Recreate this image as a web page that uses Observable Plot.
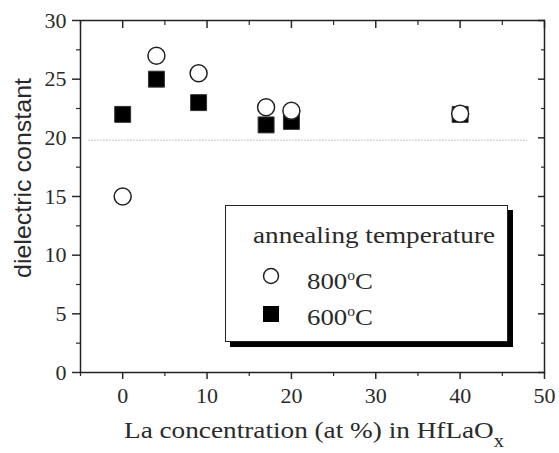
<!DOCTYPE html>
<html><head><meta charset="utf-8">
<script src="https://cdn.jsdelivr.net/npm/d3@7"></script>
<script src="https://cdn.jsdelivr.net/npm/@observablehq/plot@0.6"></script>
<style>
body{margin:0;background:#fff;font-family:"Liberation Serif","Times New Roman",serif;}
#wrap{position:relative;width:559px;height:453px;}
#wrap svg text{font-family:"Liberation Serif","Times New Roman",serif !important;}
#legend{position:absolute;left:225px;top:205px;width:283px;height:137px;border:1.2px solid #222;background:#fff;box-shadow:5px 5px 0 #000;font-size:24px;color:#2a2a2a;box-sizing:border-box;}
.fit{position:absolute;white-space:nowrap;transform-origin:0 50%;line-height:28px;}
#xt{position:absolute;left:124px;top:416px;font-size:24px;line-height:28px;color:#2a2a2a;white-space:nowrap;transform-origin:0 50%;}
#yt{position:absolute;font-family:"Liberation Sans",Arial,sans-serif;font-size:24px;line-height:28px;color:#2a2a2a;white-space:nowrap;}
</style></head>
<body><div id="wrap"></div>
<script>
const conc = [0, 4, 9, 17, 20, 40];
const k800 = [15, 27, 25.5, 22.6, 22.3, 22.05];
const k600 = [22, 25, 23, 21.1, 21.4, 22];
const xTicks = [0, 10, 20, 30, 40, 50];
const xMinor = [-5, 5, 15, 25, 35, 45];
const yTicks = [0, 5, 10, 15, 20, 25, 30];
const yMinor = [2.5, 7.5, 12.5, 17.5, 22.5, 27.5];
const refLevel = [19.8];
const refSpan = [-4, 48];
const seriesLabels = ["800°C", "600°C"];

const d800 = conc.map((x, i) => ({x, y: k800[i]}));
const d600 = conc.map((x, i) => ({x, y: k600[i]}));

const plot = Plot.plot({
  width: 559, height: 453,
  marginLeft: 80, marginTop: 20, marginRight: 15, marginBottom: 81,
  style: {fontSize: "22px", color: "#2a2a2a", background: "white"},
  x: {domain: [-5, 50]},
  y: {domain: [0, 30]},
  marks: [
    Plot.ruleY(refLevel, {x1: refSpan[0], x2: refSpan[1], stroke: "#888", strokeDasharray: "1,2", strokeWidth: 1}),
    Plot.axisX({ticks: xTicks, tickSize: 7, tickPadding: 8, label: null, strokeWidth: 1.5, fontSize: 22}),
    Plot.axisX({ticks: xMinor, tickSize: 4, text: null, label: null, strokeWidth: 1.2}),
    Plot.axisX({anchor: "top", ticks: xTicks, tickSize: -7, text: null, label: null, strokeWidth: 1.5}),
    Plot.axisX({anchor: "top", ticks: xMinor, tickSize: -4, text: null, label: null, strokeWidth: 1.2}),
    Plot.axisY({ticks: yTicks, tickSize: 8, tickPadding: 6, label: null, strokeWidth: 1.5, fontSize: 22}),
    Plot.axisY({ticks: yMinor, tickSize: 4, text: null, label: null, strokeWidth: 1.2}),
    Plot.axisY({anchor: "right", ticks: yTicks, tickSize: -7, text: null, label: null, strokeWidth: 1.5}),
    Plot.axisY({anchor: "right", ticks: yMinor, tickSize: -4, text: null, label: null, strokeWidth: 1.2}),
    Plot.frame({stroke: "#222", strokeWidth: 1.5}),
    Plot.dot(d600, {x: "x", y: "y", symbol: "square", r: 9, fill: "#000", stroke: "#333", strokeWidth: 1}),
    Plot.dot(d800, {x: "x", y: "y", symbol: "circle", r: 8.5, fill: "white", stroke: "#222", strokeWidth: 1.5})
  ]
});
const wrap = document.getElementById("wrap");
wrap.appendChild(plot);

function fitWidth(el, target) {
  const w = el.getBoundingClientRect().width;
  el.style.transform = `scaleX(${target / w})`;
}

// y title: rotated, centred at (23, 178)
const yt = document.createElement("div");
yt.id = "yt";
yt.textContent = "dielectric constant";
wrap.appendChild(yt);
{
  const r = yt.getBoundingClientRect();
  yt.style.left = (23 - r.width / 2) + "px";
  yt.style.top = (178 - r.height / 2) + "px";
  yt.style.transformOrigin = "50% 50%";
  yt.style.transform = `rotate(-90deg) scaleX(${200 / r.width})`;
}

const xt = document.createElement("div");
xt.id = "xt";
xt.innerHTML = "La concentration (at %) in HfLaO<span style='font-size:18px;position:relative;top:9px'>x</span>";
wrap.appendChild(xt);
fitWidth(xt, 380);

const sup = s => s.replace("°", "<sup style='font-size:14px;vertical-align:9px'>o</sup>");
const lg = document.createElement("div");
lg.id = "legend";
lg.innerHTML = `<div class="fit" id="lt" style="left:27px;top:15px">annealing temperature</div>
<svg width="20" height="20" style="position:absolute;left:35px;top:60px"><circle cx="10" cy="10" r="7.5" fill="white" stroke="#222" stroke-width="1.5"/></svg>
<div class="fit" id="l1" style="left:81px;top:56px">${sup(seriesLabels[0])}</div>
<svg width="20" height="20" style="position:absolute;left:35px;top:98px"><rect x="2" y="2" width="16" height="16" fill="#000"/></svg>
<div class="fit" id="l2" style="left:81px;top:92px">${sup(seriesLabels[1])}</div>`;
wrap.appendChild(lg);
fitWidth(document.getElementById("lt"), 242);
fitWidth(document.getElementById("l1"), 66);
fitWidth(document.getElementById("l2"), 66);
</script>
</body></html>
